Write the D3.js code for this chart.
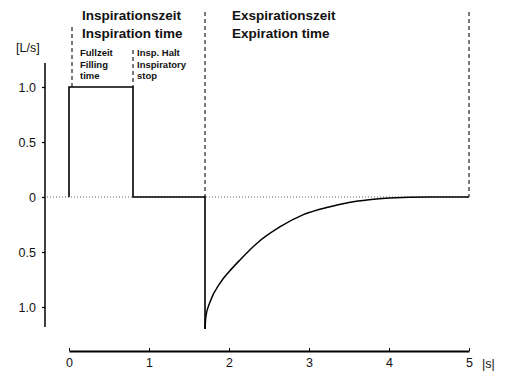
<!DOCTYPE html>
<html><head><meta charset="utf-8">
<script src="https://cdn.jsdelivr.net/npm/d3@7/dist/d3.min.js"></script>
<style>html,body{margin:0;padding:0;background:#fff;}svg{display:block;}</style>
</head><body>
<svg id="c" width="510" height="379"></svg>
<script>
// Data
const stepTimes = [0, 0, 0.8, 0.8, 1.7, 1.7];
const stepValues = [0, 1.0, 1.0, 0, 0, -1.2];
const decayTimes = [1.7, 1.71, 1.76, 1.89, 2.0, 2.14, 2.35, 2.64, 2.93, 3.25, 3.5, 3.75, 4.0, 4.5, 5.0];
const decayValues = [-1.2, -1.09, -0.96, -0.78, -0.68, -0.57, -0.42, -0.27, -0.16, -0.09, -0.05, -0.025, -0.01, 0, 0];
const yTicks = [1.0, 0.5, 0, -0.5, -1.0];
const yTickLabels = ["1.0", "0.5", "0", "0.5", "1.0"];
const xTicks = [0, 1, 2, 3, 4, 5];
const phaseBounds = [0, 0.8, 1.7, 5];
const phaseTitles = [["Inspirationszeit", "Inspiration time"], ["Exspirationszeit", "Expiration time"]];
const subTitles = [["Fullzeit", "Filling", "time"], ["Insp. Halt", "Inspiratory", "stop"]];

const svg = d3.select("#c");
const font = "'Liberation Sans', Arial, sans-serif";
const x = d3.scaleLinear().domain([0, 5]).range([69, 469]);
const y = d3.scaleLinear().domain([-1.2, 1.2]).range([329, 65]);

// zero reference line (dotted)
svg.append("line").attr("x1", 47).attr("x2", x(5)).attr("y1", y(0)).attr("y2", y(0))
  .attr("stroke", "#666").attr("stroke-width", 1).attr("stroke-dasharray", "1,2");

// Y axis
const yAxis = d3.axisLeft(y).tickValues(yTicks).tickSize(3).tickSizeOuter(0)
  .tickFormat((d, i) => yTickLabels[i]);
const gy = svg.append("g").attr("transform", "translate(45,0)").call(yAxis);
gy.select(".domain").attr("d", `M0,${y(1.2) - 2}V${y(-1.2) - 2}`).attr("stroke-width", 1.5);
gy.selectAll(".tick line").attr("stroke-width", 1.2);
gy.selectAll(".tick text").attr("font-family", font).attr("font-size", 12.5).attr("fill", "#111").attr("x", -9);
svg.append("text").attr("x", 16).attr("y", 52).attr("font-family", font).attr("font-size", 12.5)
  .attr("fill", "#111").text("[L/s]");

// X axis
const xAxis = d3.axisBottom(x).tickValues(xTicks).tickSize(3).tickSizeOuter(0).tickFormat(d3.format("d"));
const gx = svg.append("g").attr("transform", "translate(0,351)").call(xAxis);
gx.select(".domain").attr("stroke-width", 2);
gx.selectAll(".tick line").attr("stroke-width", 1).attr("y2", -3);
gx.selectAll(".tick text").attr("font-family", font).attr("font-size", 12.5).attr("fill", "#111").attr("dy", "0.71em").attr("y", 7);
svg.append("text").attr("x", 482).attr("y", 368).attr("font-family", font).attr("font-size", 12.5)
  .attr("fill", "#111").text("|s|");

// dashed phase boundaries
const dashTop = [27, 50, 12, 12];
const dashBottom = [y(1.0), y(1.0), y(0), y(0)];
svg.selectAll("line.phase").data(phaseBounds).join("line").attr("class", "phase")
  .attr("x1", (d) => x(d) + (d === 0 ? 3 : 0)).attr("x2", (d) => x(d) + (d === 0 ? 3 : 0))
  .attr("y1", (d, i) => dashTop[i]).attr("y2", (d, i) => dashBottom[i])
  .attr("stroke", "#222").attr("stroke-width", 1.2).attr("stroke-dasharray", "4,3");

// Flow trace
const line = d3.line().x((d) => x(d[0])).y((d) => y(d[1]));
svg.append("path").datum(stepTimes.map((t, i) => [t, stepValues[i]]))
  .attr("d", line).attr("fill", "none").attr("stroke", "#000").attr("stroke-width", 1.6);
const curveLine = d3.line().x((d) => x(d[0])).y((d) => y(d[1])).curve(d3.curveMonotoneX);
svg.append("path").datum(decayTimes.map((t, i) => [t, decayValues[i]]))
  .attr("d", curveLine).attr("fill", "none").attr("stroke", "#000").attr("stroke-width", 1.5);

// Phase titles
const titleX = [82, 232];
phaseTitles.forEach((lines, i) => {
  lines.forEach((s, j) => {
    svg.append("text").attr("x", titleX[i]).attr("y", 20 + j * 18)
      .attr("font-family", font).attr("font-weight", "bold").attr("font-size", 13.5)
      .attr("fill", "#111").text(s);
  });
});
const subX = [80, 137];
subTitles.forEach((lines, i) => {
  lines.forEach((s, j) => {
    svg.append("text").attr("x", subX[i]).attr("y", 56 + j * 11.5)
      .attr("font-family", font).attr("font-weight", "bold").attr("font-size", 9.5)
      .attr("fill", "#111").text(s);
  });
});
</script>
</body></html>
